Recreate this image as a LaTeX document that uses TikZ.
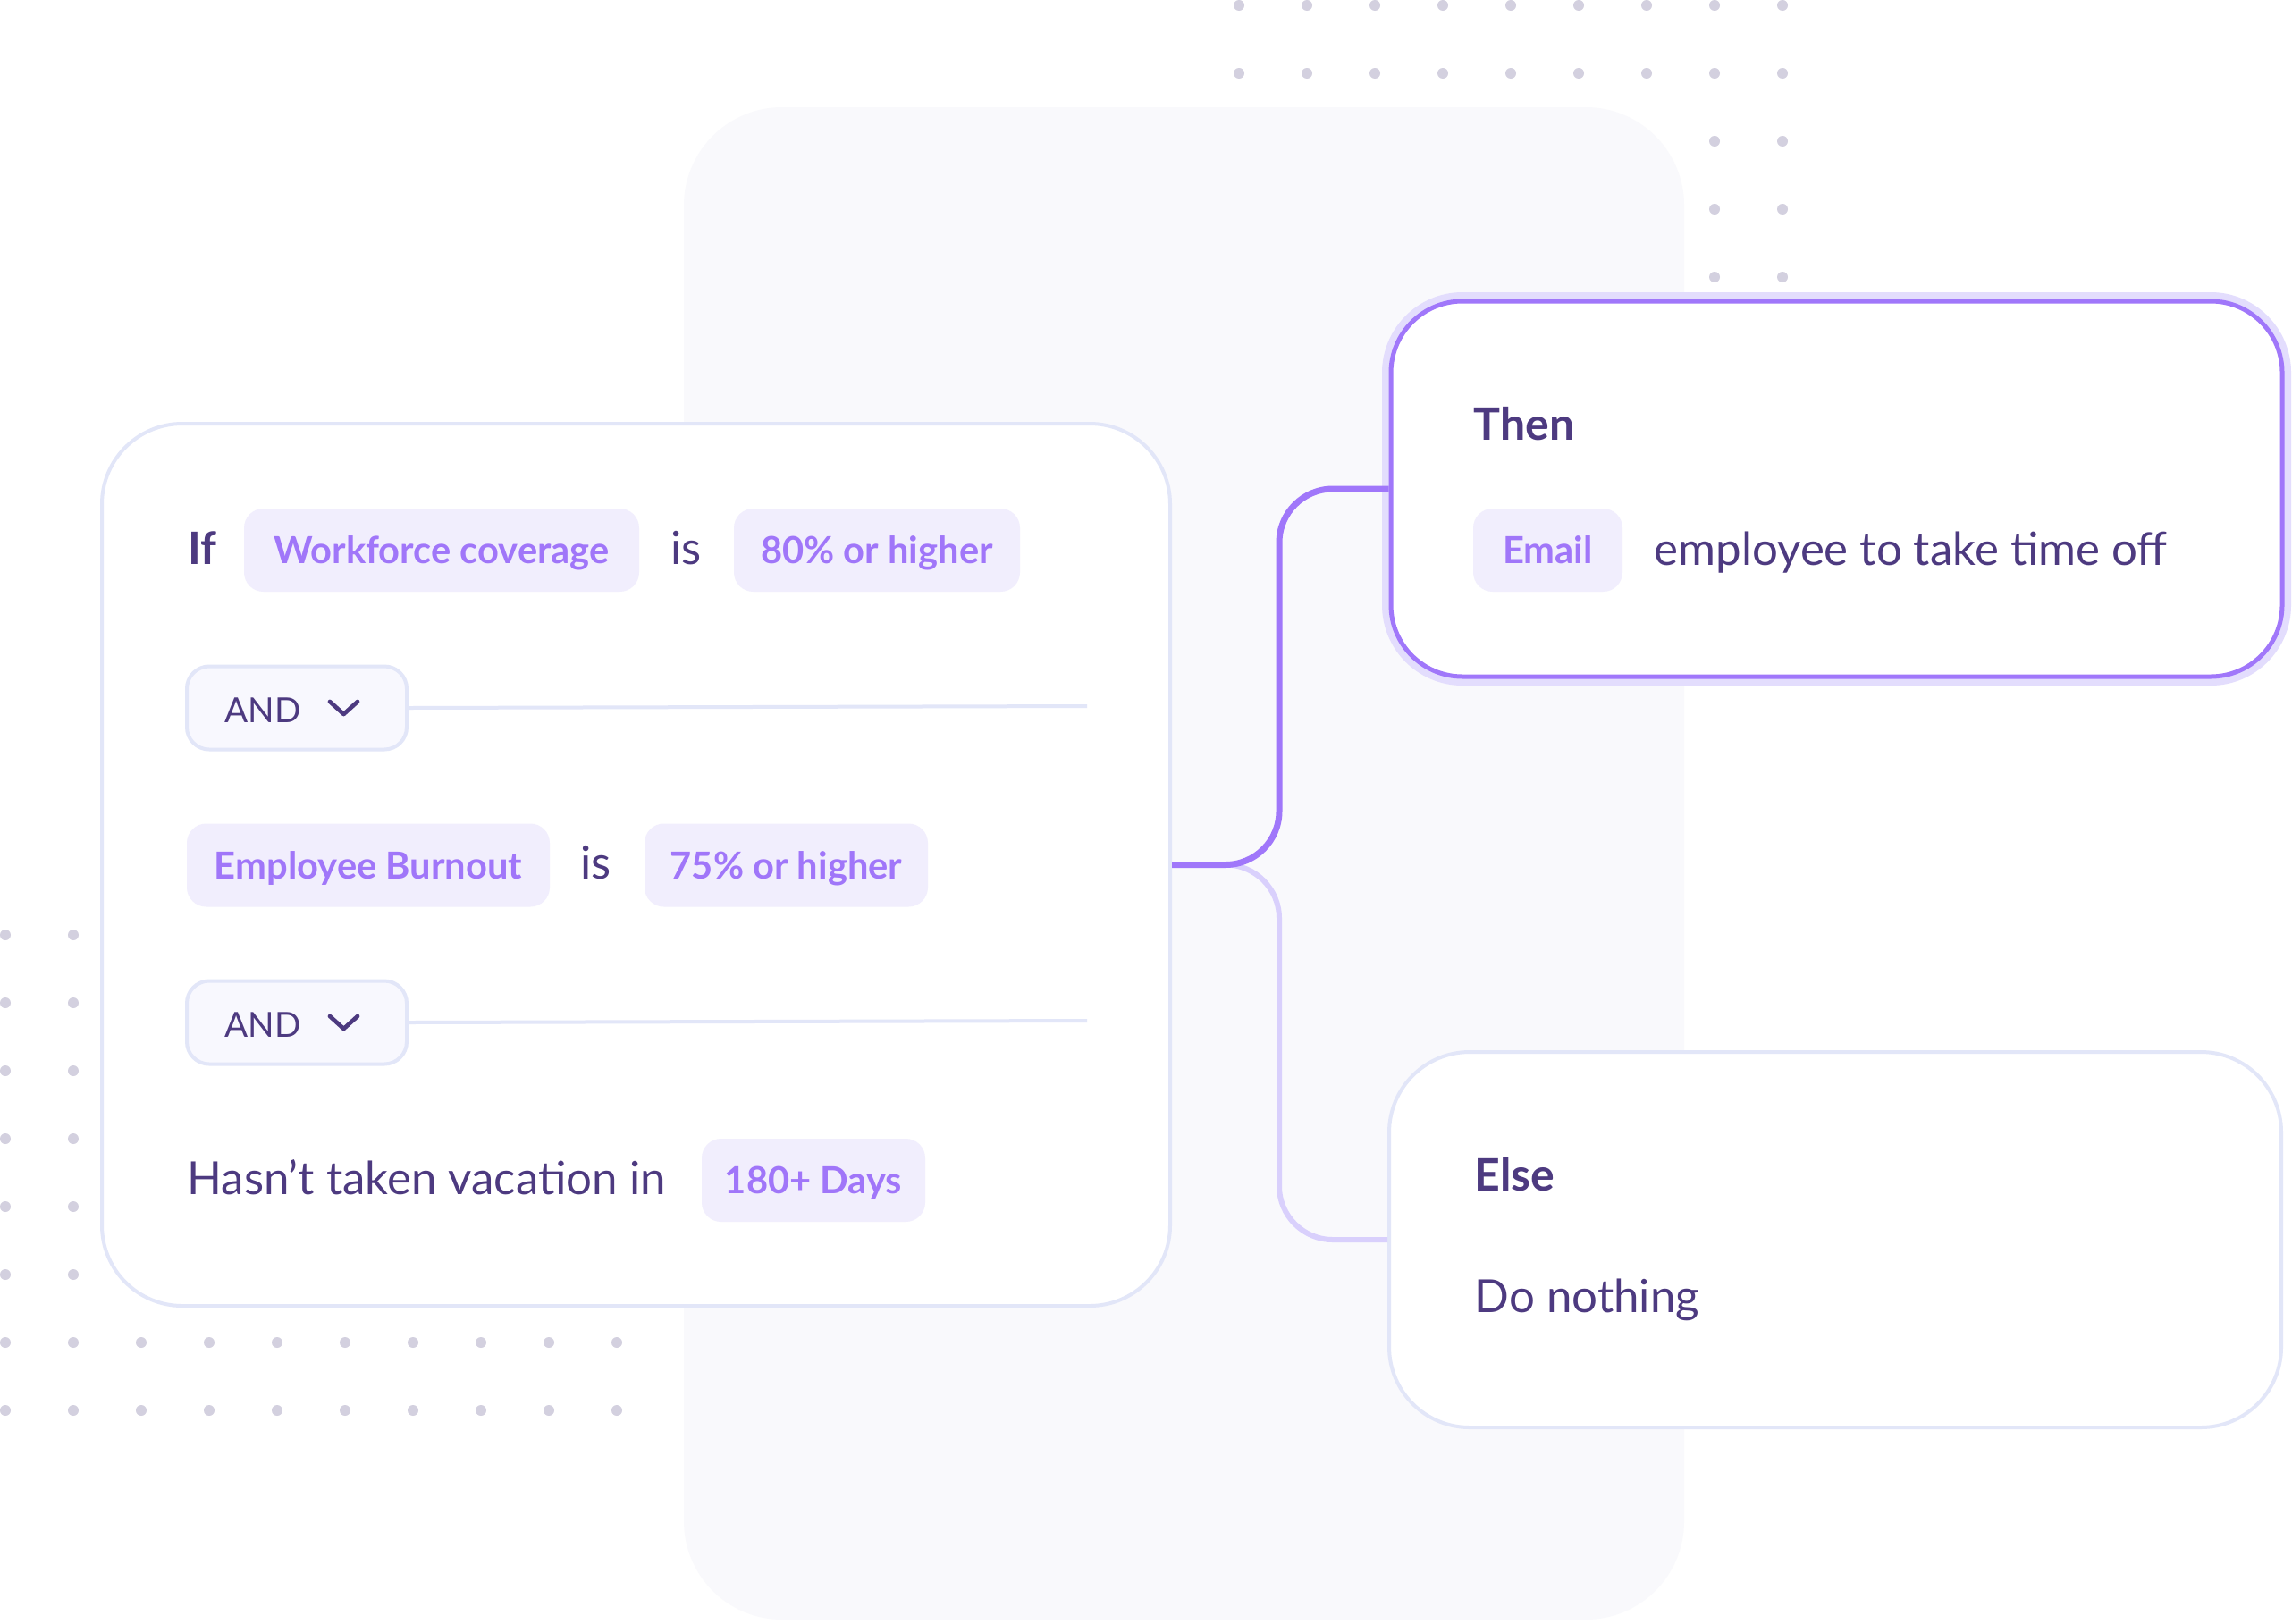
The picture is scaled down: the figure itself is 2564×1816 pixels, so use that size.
\documentclass[tikz,border=0pt]{standalone}
\usepackage{fontspec}
\setmainfont{Lato}
\definecolor{ink}{HTML}{4D3A80}
\definecolor{chipfg}{HTML}{A076F9}
\definecolor{chipbg}{HTML}{F1EEFD}
\definecolor{cardline}{HTML}{E2E6F8}
\definecolor{andbg}{HTML}{F8F8FE}
\definecolor{panel}{HTML}{F9F9FC}
\definecolor{dotc}{HTML}{D3D0DF}
\definecolor{purp}{HTML}{A077FA}
\definecolor{lightpurp}{HTML}{D9D0FC}
\definecolor{glowc}{HTML}{E3DDFD}
\begin{document}
\begin{tikzpicture}[x=0.3pt,y=-0.3pt,
  card/.style={draw=cardline, line width=1.2pt, fill=white, rounded corners=27pt, inner sep=0pt},
  thenbox/.style={draw=purp, line width=1.5pt, fill=white, rounded corners=24pt, inner sep=0pt,
    preaction={draw=glowc, line width=6pt}},
  chip/.style={fill=chipbg, rounded corners=6.5pt, inner sep=0pt, text=chipfg,
    font=\fontsize{12.5}{15}\selectfont\bfseries, minimum height=93*0.3pt,
    text height=9.2pt, text depth=0pt},
  andbox/.style={draw=cardline, line width=1.2pt, fill=andbg, rounded corners=7.5pt, inner sep=0pt,
    minimum width=246*0.3pt, minimum height=93*0.3pt},
  txt/.style={inner sep=0pt, text=ink, font=\fontsize{15.3}{18}\selectfont, anchor=base west},
  head/.style={txt, font=\fontsize{15}{18}\selectfont\bfseries},
  andtxt/.style={txt, font=\fontsize{11.6}{14}\selectfont},
  chev/.style={draw=ink, line width=1.4pt, line cap=round, line join=round},
  sep/.style={draw=cardline, line width=1.2pt},
  conn/.style={draw=purp, line width=2.1pt, rounded corners=18pt},
  connlight/.style={draw=lightpurp, line width=1.8pt, rounded corners=18pt}
]
\useasboundingbox (0,0) rectangle (2564,1816);
\fill[white] (0,0) rectangle (2564,1816);

% dots top right
\foreach \k in {0,...,8}{
  \foreach \y in {6,82}{
    \fill[dotc] (1386+76*\k,\y) circle[radius=1.8pt];
  }
}
\foreach \k in {7,8}{
  \foreach \y in {158,234,310}{
    \fill[dotc] (1386+76*\k,\y) circle[radius=1.8pt];
  }
}
% dots bottom left
\foreach \j in {0,...,5}{
  \foreach \k in {0,1}{
    \fill[dotc] (6+76*\k,1046+76*\j) circle[radius=1.8pt];
  }
}
\foreach \j in {6,7}{
  \foreach \k in {0,...,9}{
    \fill[dotc] (6+76*\k,1046+76*\j) circle[radius=1.8pt];
  }
}

% background panel
\fill[panel, rounded corners=33pt] (765,120) rectangle (1884,1812);

% left card
\node[card, minimum width=1195*0.3pt, minimum height=987*0.3pt] (card) at (711.5,967.5) {};

% row 1
\node[head] (if) at (210,631) {If};
\node[chip, minimum width=442*0.3pt] (wc) at (494,615.5) {Workforce coverage};
\node[txt] (is1) at (750,631) {is};
\node[chip, minimum width=320*0.3pt] (p80) at (981,615.5) {80\% or higher};

% AND 1
\node[andbox] (and1) at (332,792) {};
\node[andtxt] (andt1) at (251,808) {AND};
\draw[chev] (369,785) -- (384.5,799) -- (400,785);
\coordinate (l1) at (1216,790);
\draw[sep] (and1.east) -- (l1);

% row 2
\node[chip, minimum width=406*0.3pt] (eb) at (412,968) {Employee Burnout};
\node[txt] (is2) at (649,983.5) {is};
\node[chip, minimum width=317*0.3pt] (p75) at (879.5,968) {75\% or higher};

% AND 2
\node[andbox] (and2) at (332,1144) {};
\node[andtxt] (andt2) at (251,1160) {AND};
\draw[chev] (369,1137) -- (384.5,1151) -- (400,1137);
\coordinate (l2) at (1216,1142);
\draw[sep] (and2.east) -- (l2);

% row 3
\node[txt] (hasnt) at (209,1336) {Hasn’t taken vacation in};
\node[chip, minimum width=250*0.3pt] (d180) at (910,1320.5) {180+ Days};

% Then box
\node[thenbox, minimum width=997*0.3pt, minimum height=420*0.3pt] (then) at (2054.5,547) {};
\node[head] (thent) at (1648,492) {Then};
\node[chip, minimum width=167*0.3pt] (email) at (1731.5,615.5) {Email};
\node[txt] (emp) at (1850,632) {employee to take time off};

% Else box
\node[card, minimum width=998*0.3pt, minimum height=420*0.3pt] (else) at (2053,1387) {};
\node[head] (elset) at (1649,1332) {Else};
\node[txt] (donot) at (1649,1468) {Do nothing};

% connectors
\coordinate (j) at (1431,967.5);
\draw[connlight] (card.east) -- (j |- card.east) -- (j |- else.west) -- (else.west);
\draw[conn] (card.east) -- (j |- card.east) -- (j |- then.west) -- (then.west);
\end{tikzpicture}
\end{document}
